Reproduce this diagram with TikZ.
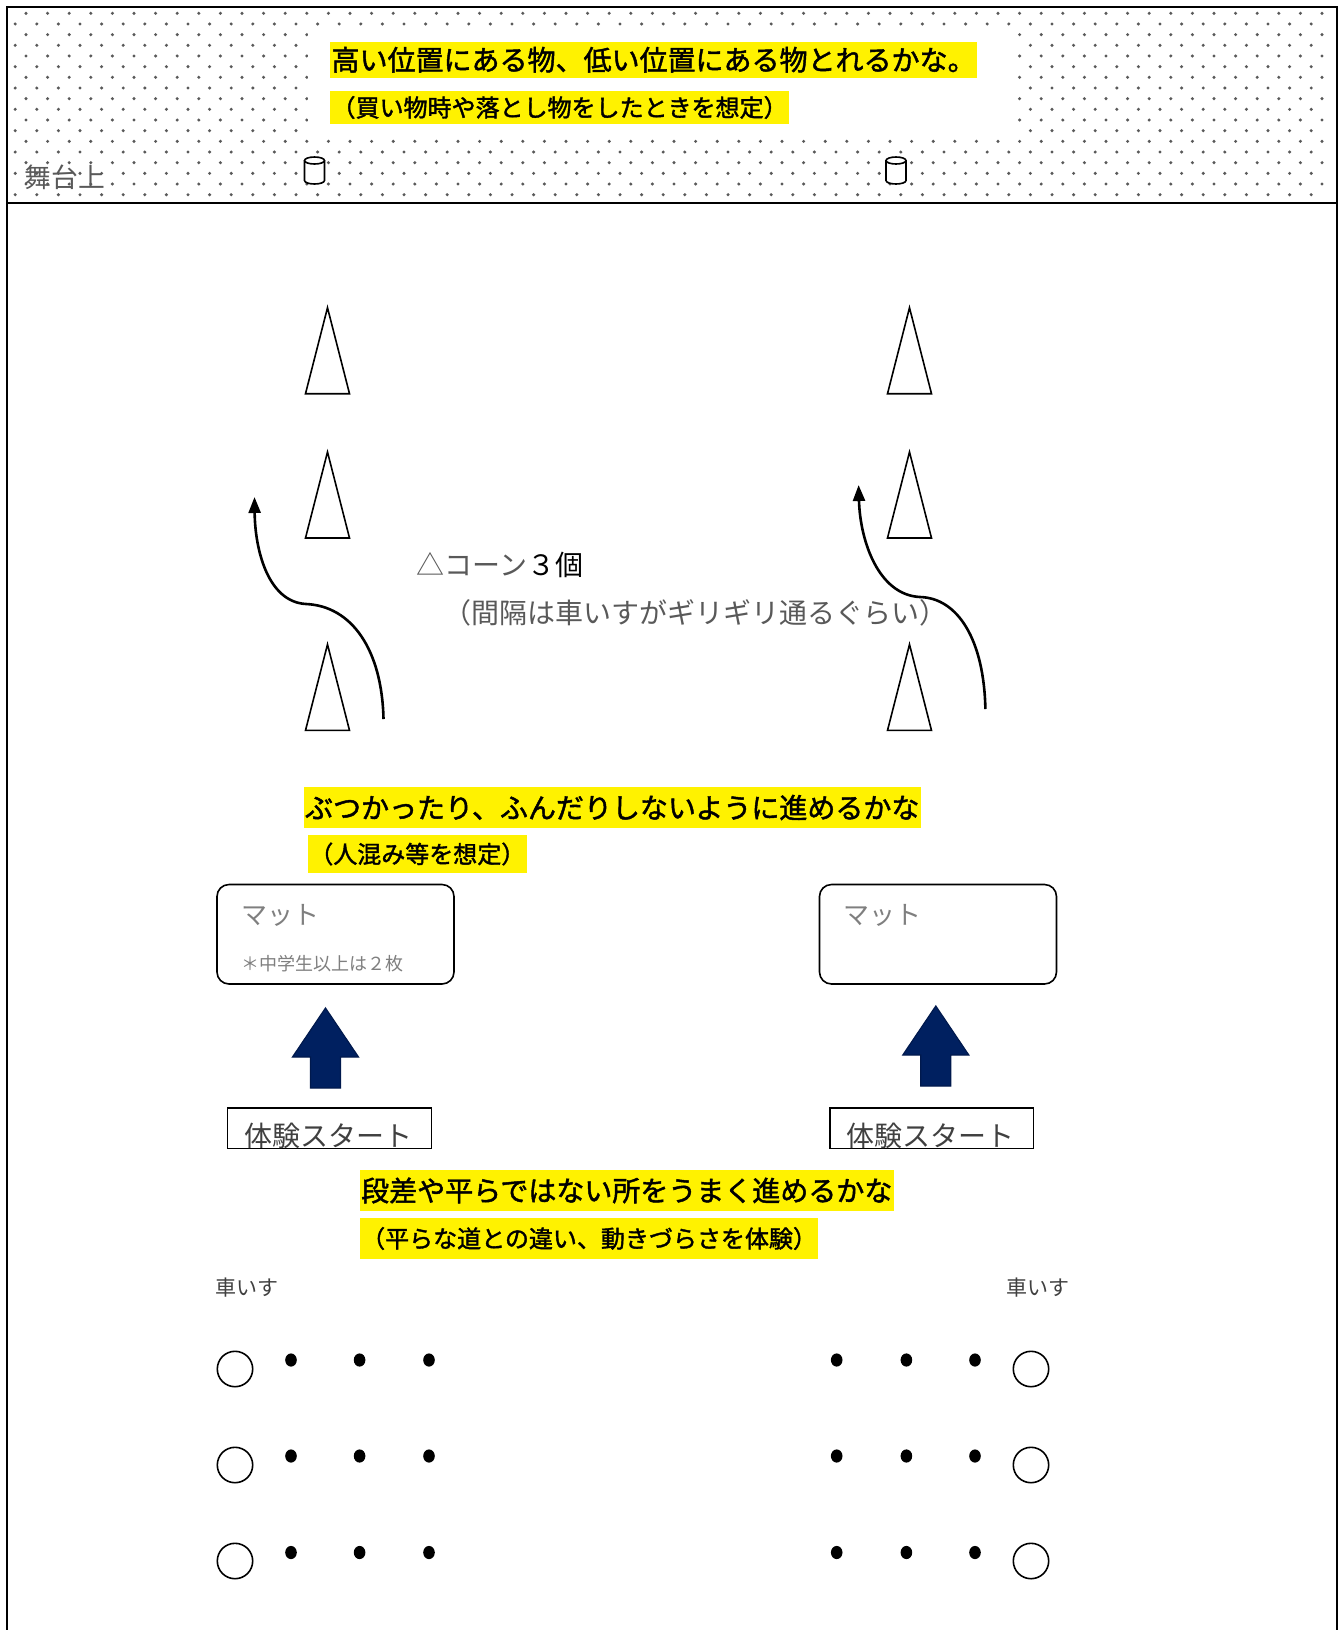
\documentclass[tikz,border=0pt]{standalone}
\usepackage{fontspec}
\setmainfont{Noto Sans CJK JP}
\newfontfamily\hlfont[FakeBold=1.6]{Noto Sans CJK JP}
\usetikzlibrary{arrows.meta,positioning}
\definecolor{navyblue}{HTML}{002060}
\definecolor{txtgray}{HTML}{595959}
\definecolor{lightgray}{HTML}{7F7F7F}

\begin{document}
\begin{tikzpicture}[x=0.5pt,y=-0.5pt,
        hl/.style={fill=yellow,anchor=west,inner xsep=0.6pt,inner ysep=0pt,minimum height=20.5pt,font=\hlfont\fontsize{14pt}{14pt}\selectfont},
        hlsmall/.style={hl,font=\hlfont\fontsize{12pt}{12pt}\selectfont},
        note/.style={text=txtgray,anchor=west,inner sep=0pt,font=\fontsize{14pt}{14pt}\selectfont},
        matbox/.style={draw,line width=0.8pt,rounded corners=6pt,minimum width=118.5pt,minimum height=49.75pt},
        startbox/.style={draw,line width=0.8pt,minimum width=101.9pt,minimum height=20.25pt}]
    \useasboundingbox (0,0) rectangle (1344,1630);
    \foreach \r in {0,...,17}{
        \foreach \k in {0,...,60}{
            \fill[black!65] ({15.2+10.8*mod(\r+1,2)+21.6*\k},{13.3+10.67*\r}) circle[radius=0.85pt];
        }
    }
    \fill[white] (308,29) rectangle (1013,136);
    \draw[line width=1pt] (7.3,1630)--(7.3,7.3)--(1336.7,7.3)--(1336.7,1630);
    \draw[line width=1pt] (7.3,202.7)--(1336.7,202.7);

    \node[hl,minimum height=18.25pt] (goalA) at (330,59.75) {高い位置にある物、低い位置にある物とれるかな。};
    \node[hlsmall,minimum height=16.5pt] (goalAsub) at (330,107.5) {（買い物時や落とし物をしたときを想定）};
    \node[note,font=\fontsize{13.4pt}{13.4pt}\selectfont] (stage) at (24,177) {舞台上};
    \foreach \x in {314.5,896}{
        \draw[line width=0.8pt,fill=white] (\x-10,160.5)--(\x-10,180.5) arc[start angle=180,end angle=360,x radius=5pt,y radius=1.75pt]--(\x+10,160.5);
        \draw[line width=0.8pt] (\x,160.5) ellipse[x radius=5pt,y radius=1.75pt];
    }

    \foreach \x in {327.5,909.5}{
        \foreach \y in {307.7,452,644.4}{
            \draw[line width=0.8pt] (\x,\y)--(\x+22,\y+86)--(\x-22,\y+86)--cycle;
        }
    }
    \node[note] (cones) at (416,565) {△コーン{\color{black}３個}};
    \node[note] (gap) at (443,613) {（間隔は車いすがギリギリ通るぐらい）};
    \draw[line width=1.3pt,-{Triangle[length=8pt,width=6pt]}] (383.5,719) .. controls (382,650) and (352,606) .. (306,604) .. controls (268,602) and (255,550) .. (254.5,497);
    \draw[line width=1.3pt,-{Triangle[length=8pt,width=6pt]}] (985.4,709) .. controls (984,640) and (958,598) .. (920,597) .. controls (878,595) and (860,540) .. (858.6,485);

    \node[hl] (goalB) at (303.5,807.5) {ぶつかったり、ふんだりしないように進めるかな};
    \node[hlsmall,minimum height=19pt] (goalBsub) at (307.7,854) {（人混み等を想定）};
    \node[matbox] (matL) at (335.5,934.25) {};
    \node[matbox] (matR) at (938,934.25) {};
    \node[note,text=lightgray,font=\fontsize{13pt}{13pt}\selectfont] (matLname) at (241,915) {マット};
    \node[note,text=lightgray,font=\fontsize{13pt}{13pt}\selectfont] (matRname) at (843,915) {マット};
    \node[note,text=lightgray,font=\fontsize{9pt}{9pt}\selectfont] (matLnote) at (241,963.5) {＊中学生以上は２枚};

    \foreach \x/\y in {325.5/1008,935.8/1006}{
        \draw[navyblue!80!black,line width=0.6pt,fill=navyblue] (\x,\y)--(\x+33,\y+49)--(\x+15,\y+49)--(\x+15,\y+80)--(\x-15,\y+80)--(\x-15,\y+49)--(\x-33,\y+49)--cycle;
    }
    \node[startbox] (startL) at (329.5,1128.25) {};
    \node[startbox] (startR) at (931.75,1128.25) {};
    \node[note,anchor=center,text=black!75] (startLtxt) at (328,1135.5) {体験スタート};
    \node[note,anchor=center,text=black!75] (startRtxt) at (930.8,1135.5) {体験スタート};

    \node[hl] (goalC) at (359.6,1190.5) {段差や平らではない所をうまく進めるかな};
    \node[hlsmall] (goalCsub) at (359.6,1238.5) {（平らな道との違い、動きづらさを体験）};
    \node[note,text=black!75,font=\fontsize{10.5pt}{10.5pt}\selectfont] (chairL) at (215,1288) {車いす};
    \node[note,text=black!75,font=\fontsize{10.5pt}{10.5pt}\selectfont] (chairR) at (1006,1288) {車いす};
    \foreach \x in {235,1031}{
        \foreach \y in {1369,1465,1561}{
            \draw[line width=0.8pt] (\x,\y) circle[radius=8.85pt];
        }
    }
    \foreach \x in {291,359.6,429,836.7,906.4,975}{
        \foreach \y in {1360,1456,1552.5}{
            \fill (\x,\y) ellipse[x radius=2.9pt,y radius=3.3pt];
        }
    }
\end{tikzpicture}
\end{document}
